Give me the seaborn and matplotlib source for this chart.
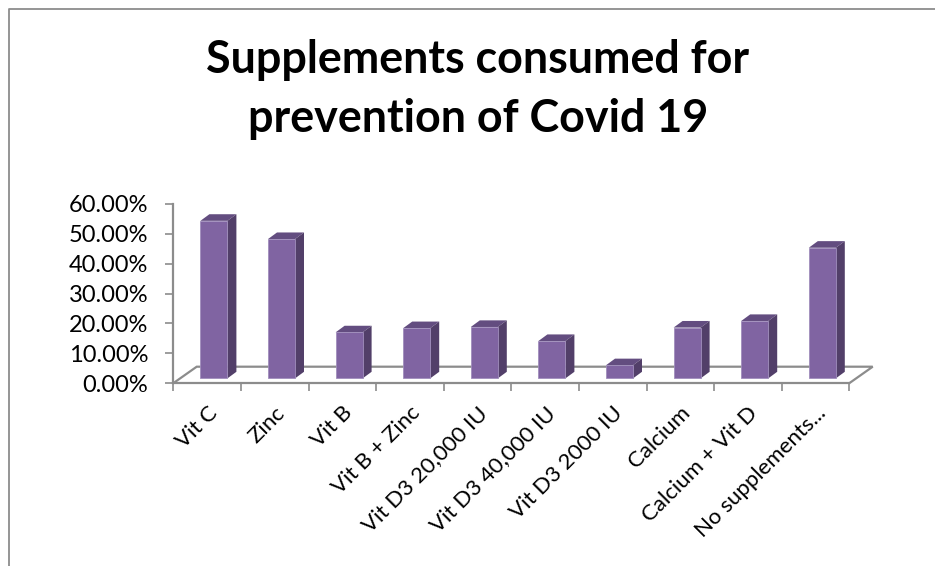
import matplotlib.pyplot as plt
import pandas as pd
import seaborn as sns
from matplotlib.lines import Line2D
from matplotlib.patches import Polygon
from matplotlib.ticker import PercentFormatter

categories = ['Vit C', 'Zinc', 'Vit B', 'Vit B + Zinc', 'Vit D3 20,000 IU', 'Vit D3 40,000 IU',
              'Vit D3 2000 IU', 'Calcium', 'Calcium + Vit D', 'No supplements...']
values = [0.527, 0.466, 0.154, 0.168, 0.172, 0.125, 0.044, 0.170, 0.192, 0.437]
y_ticks = [0.0, 0.1, 0.2, 0.3, 0.4, 0.5, 0.6]

W, H = 935, 566
PX_X = 67.6    # pixels per category
PX_Y = 299.0   # pixels per 100%

sns.set_theme(style='white')
plt.rcParams['font.family'] = ['Lato', 'DejaVu Sans']

GREY = '#8c8c8c'
FRONT = '#8064a2'
TOP = '#634d80'
SIDE = '#523f69'

fig = plt.figure(figsize=(W / 100, H / 100), dpi=100)
ax = fig.add_axes([173.3 / W, 1 - 383.2 / H, 676 / W, 179.4 / H])

df = pd.DataFrame({'item': categories, 'share': values})
sns.barplot(data=df, x='item', y='share', color=FRONT, saturation=1, width=27 / PX_X,
            edgecolor='#a08ebc', linewidth=0.6, ax=ax, zorder=3)

ax.set_xlim(-0.5, len(categories) - 0.5)
ax.set_ylim(0, 0.6)
ax.set_xlabel('')
ax.set_ylabel('')

# fake the 3D look: floor depth and bar depth in data units
floor_dx, floor_dy = 23.4 / PX_X, 16.5 / PX_Y
front_dx, front_dy = 6.8 / PX_X, 4.8 / PX_Y
bar_dx, bar_dy = 9.0 / PX_X, 6.6 / PX_Y

x0, x1 = ax.get_xlim()
ax.plot([x0, x0 + floor_dx, x1 + floor_dx, x1], [0, floor_dy, floor_dy, 0],
        color=GREY, lw=1.6, clip_on=False, zorder=1, solid_joinstyle='miter')

for bar in ax.patches:
    bar.set_x(bar.get_x() + front_dx)
    bar.set_y(front_dy)
    bar.set_clip_on(False)
    left = bar.get_x()
    right = left + bar.get_width()
    top = bar.get_y() + bar.get_height()
    ax.add_patch(Polygon([(left, top), (right, top), (right + bar_dx, top + bar_dy), (left + bar_dx, top + bar_dy)],
                         facecolor=TOP, edgecolor='none', clip_on=False, zorder=2.9))
    ax.add_patch(Polygon([(right, front_dy), (right + bar_dx, front_dy + bar_dy),
                          (right + bar_dx, top + bar_dy), (right, top)],
                         facecolor=SIDE, edgecolor='none', clip_on=False, zorder=2.9))

sns.despine(ax=ax)
for side in ['left', 'bottom']:
    ax.spines[side].set_color(GREY)
    ax.spines[side].set_linewidth(1.6)

ax.set_yticks(y_ticks)
ax.yaxis.set_major_formatter(PercentFormatter(1, decimals=2))
ax.set_xticks([i - 0.5 for i in range(len(categories) + 1)], minor=True)
ax.set_xticks(range(len(categories)))
ax.set_xticklabels(categories, rotation=45, ha='right', va='top', rotation_mode='anchor', fontsize=16, color='black')
ax.tick_params(axis='x', which='major', length=0, pad=14)
ax.tick_params(axis='x', which='minor', bottom=True, length=5.5, width=1.2, color=GREY)
ax.tick_params(axis='y', left=True, length=5.5, width=1.2, color=GREY, labelsize=17, labelcolor='black', pad=12.5)

fig.text(478 / W, 1 - 89.5 / H, 'Supplements consumed for\nprevention of Covid 19', ha='center', va='center',
         fontsize=32.3, fontweight='bold', color='black', linespacing=1.5)

# chart border, only top and left are inside the crop
fig.add_artist(Line2D([1, 8.5 / W, 8.5 / W], [1 - 8.5 / H, 1 - 8.5 / H, 0], color=GREY, lw=1.3))

fig.savefig('out.png', dpi=100)
